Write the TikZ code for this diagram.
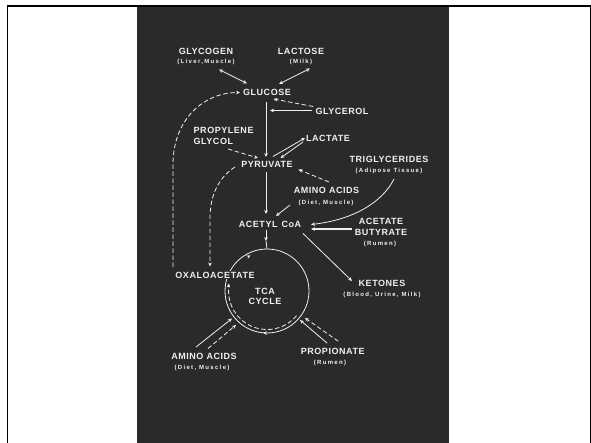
\documentclass[tikz,border=0pt]{standalone}
\usepackage{fontspec}
\setmainfont{Liberation Sans}
\newfontfamily\lblfont[LetterSpace=6]{Liberation Sans}
\newfontfamily\smallfont[LetterSpace=22]{Liberation Sans}
\usetikzlibrary{arrows.meta}
\definecolor{slide}{HTML}{2A2A2A}
\definecolor{ink}{HTML}{F0F0F0}
\pgfdeclarelayer{back}
\pgfdeclarelayer{lines}
\pgfsetlayers{back,lines,main}
\begin{document}
\begin{tikzpicture}[x=1pt,y=-1pt,
  lbl/.style={text=ink, font=\lblfont\bfseries\fontsize{9}{11}\selectfont, inner sep=0.5pt, align=center},
  sublbl/.style={text=ink, font=\smallfont\bfseries\fontsize{6}{7}\selectfont, inner sep=0.5pt},
  conn/.style={draw=ink, line width=0.8pt},
  dashconn/.style={conn, dash pattern=on 4.5pt off 2.5pt},
  arr/.style={-{Stealth[length=4pt,width=3.6pt]}},
  biarr/.style={{Stealth[length=4pt,width=3.6pt]}-{Stealth[length=4pt,width=3.6pt]}},
]
\useasboundingbox (0,0) rectangle (591,443);
\begin{pgfonlayer}{back}
\fill[white] (0,0) rectangle (591,443);
\fill[slide] (137,7) rectangle (449,443);
\draw[line width=2pt] (7,6) -- (591,6);
\draw[line width=1.5pt] (7.5,5) -- (7.5,443);
\draw[line width=1pt] (590,5) -- (590,443);
\end{pgfonlayer}

% nodes
\node[lbl] (glycogen) at (206,51) {GLYCOGEN};
\node[sublbl] (glycogensub) at (206,62) {(Liver,Muscle)};
\node[lbl] (lactose) at (301,51) {LACTOSE};
\node[sublbl] (lactosesub) at (301,62) {(Milk)};
\node[lbl] (glucose) at (267,92.5) {GLUCOSE};
\node[lbl] (glycerol) at (342,111) {GLYCEROL};
\node[lbl, align=left, anchor=west] (propylene) at (193,135.5) {PROPYLENE\\GLYCOL};
\node[lbl] (lactate) at (328,138.5) {LACTATE};
\node[lbl] (pyruvate) at (267,164.5) {PYRUVATE};
\node[lbl] (trig) at (389,159) {TRIGLYCERIDES};
\node[sublbl] (trigsub) at (389,171) {(Adipose Tissue)};
\node[lbl] (aminomid) at (326.5,190.5) {AMINO ACIDS};
\node[sublbl] (aminomidsub) at (326,203) {(Diet, Muscle)};
\node[lbl] (acetyl) at (270,224) {ACETYL\hspace{4pt}CoA};
\node[lbl] (acetate) at (381,227) {ACETATE\\BUTYRATE};
\node[sublbl] (acetatesub) at (380,244.3) {(Rumen)};
\node[lbl, fill=slide] (oxalo) at (215,275) {OXALOACETATE};
\node[lbl] (ketones) at (382,283) {KETONES};
\node[sublbl] (ketonessub) at (382,295) {(Blood, Urine, Milk)};
\node[lbl] (tca) at (265,296.7) {TCA\\[-1pt]CYCLE};
\node[lbl] (aminobot) at (204,356) {AMINO ACIDS};
\node[sublbl] (aminobotsub) at (202,368.3) {(Diet, Muscle)};
\node[lbl] (propionate) at (332.7,351.7) {PROPIONATE};
\node[sublbl] (propionatesub) at (330,363.3) {(Rumen)};
\coordinate (tcac) at (267,291);

\begin{pgfonlayer}{lines}
\draw[conn,biarr] ([shift={(13,7.5)}]glycogensub.center) -- ([shift={(-20,-9)}]glucose.center);
\draw[conn,biarr] ([shift={(9,6.5)}]lactosesub.center) -- ([shift={(12,-8.5)}]glucose.center);
\draw[dashconn,arr] ([shift={(-42,-8)}]oxalo.center) -- (173,165) .. controls (173,118) and (205,92.5) .. ([shift={(-27,0)}]glucose.center);
\draw[conn,arr] ([shift={(-1,9.5)}]glucose.center) -- ([shift={(-1,-7.5)}]pyruvate.center);
\draw[conn,arr,line width=1.1pt] ([shift={(-30,-0.5)}]glycerol.center) -- ([shift={(3,18)}]glucose.center);
\draw[dashconn,arr] ([shift={(-29,-4.5)}]glycerol.center) -- ([shift={(6.5,6.5)}]glucose.center);
\draw[dashconn,arr] ([shift={(35,13.5)}]propylene.west) -- ([shift={(-9,-6.5)}]pyruvate.center);
\draw[conn,arr] ([shift={(6,-8)}]pyruvate.center) -- ([shift={(-23,-0.5)}]lactate.center);
\draw[conn,arr] ([shift={(-25,3.5)}]lactate.center) -- ([shift={(13.5,-6.5)}]pyruvate.center);
\draw[dashconn,arr] ([shift={(2.5,-8.5)}]aminomid.center) -- ([shift={(31.5,5)}]pyruvate.center);
\draw[dashconn,arr] ([shift={(-32,2.5)}]pyruvate.center) .. controls (219,177) and (210,195) .. (210,218) -- ([shift={(-5,-8.5)}]oxalo.center);
\draw[conn,arr] ([shift={(-1,7.5)}]pyruvate.center) -- ([shift={(-4,-10)}]acetyl.center);
\draw[conn,arr] ([shift={(-36,2)}]aminomidsub.center) -- ([shift={(6,-8)}]acetyl.center);
\draw[conn,arr] ([shift={(5,8)}]trigsub.center) .. controls (382,203) and (352,220) .. ([shift={(41,0.5)}]acetyl.center);
\draw[conn,arr,line width=1.1pt] ([shift={(-29,2)}]acetate.center) -- ([shift={(41,5)}]acetyl.center);
\draw[conn,arr] ([shift={(33,9.5)}]acetyl.center) -- ([shift={(-30,-2)}]ketones.center);
% into the cycle
\draw[conn,arr] ([shift={(-4,6)}]acetyl.center) -- ([shift={(-1,-50)}]tcac);
\draw[conn] ([shift={(-1,-50)}]tcac) -- ([shift={(0,-42)}]tcac);
\draw[conn] (tcac) circle[radius=42];
\draw[conn,arr] ([shift={(-19,-34.3)}]tcac) -- ([shift={(-16.5,-35.6)}]tcac);
\draw[conn,arr] ([shift={(-38.6,-4)}]tcac) -- ([shift={(-38,-7.5)}]tcac);
\draw[conn,arr] ([shift={(-1,42)}]tcac) -- ([shift={(-4,41.8)}]tcac);
\draw[dashconn] ([shift={(40:38.5)}]tcac) arc[start angle=40, end angle=186, radius=38.5];
% amino acids and propionate into the cycle
\draw[conn,arr] ([shift={(-8,-9)}]aminobot.center) -- ([shift={(-35,27.5)}]tcac);
\draw[dashconn,arr] ([shift={(4,-7.5)}]aminobot.center) -- ([shift={(-31,34)}]tcac);
\draw[conn,arr] ([shift={(-5.5,-8.5)}]propionate.center) -- ([shift={(33,29)}]tcac);
\draw[dashconn,arr] ([shift={(5.5,-10.5)}]propionate.center) -- ([shift={(38,27)}]tcac);
\end{pgfonlayer}
\end{tikzpicture}
\end{document}
